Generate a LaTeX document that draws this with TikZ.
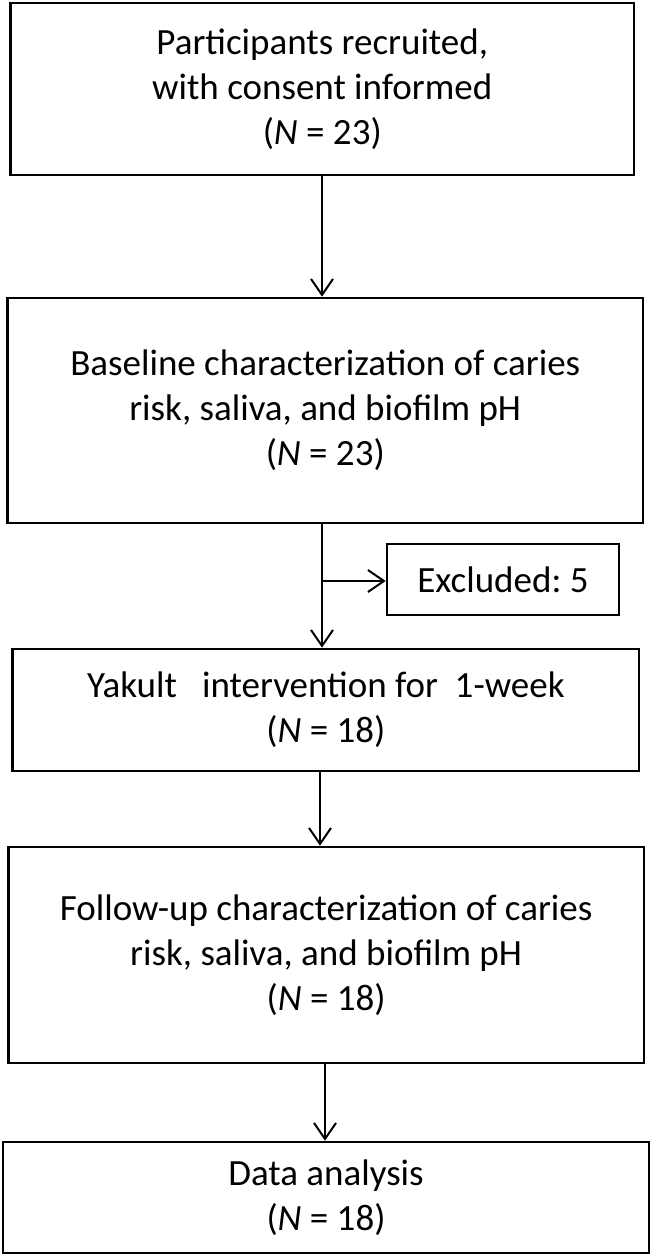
\documentclass[tikz,border=0pt]{standalone}
\usepackage{fontspec}
\setmainfont{Carlito}
\usetikzlibrary{arrows.meta}
\begin{document}
\begin{tikzpicture}[x=1pt,y=-1pt,
  box/.style={draw=black, line width=2.6pt, rectangle, align=center, inner sep=0pt,
    font=\fontsize{37}{45}\selectfont},
  conn/.style={line width=2pt, -{Straight Barb[length=16pt,width=22pt,line width=2pt]}}]
\useasboundingbox (0,0) rectangle (651,1257);
\node[box, minimum width=623.5pt, minimum height=172pt] (b1) at (322.25,89)
  {Participants recruited,\\with consent informed\\(\textit{N} = 23)};
\node[box, minimum width=635.5pt, minimum height=225pt] (b2) at (325.25,410.5)
  {Baseline characterization of caries\\risk, saliva, and biofilm pH\\(\textit{N} = 23)};
\node[box, minimum width=232pt, minimum height=71pt] (ex) at (503,579.5)
  {Excluded:\ 5};
\node[box, minimum width=626.3pt, minimum height=122pt] (b3) at (325.85,710)
  {Yakult\ \ \ intervention for\ \ 1-week\\(\textit{N} = 18)};
\node[box, minimum width=635.7pt, minimum height=216pt] (b4) at (326.15,955)
  {Follow-up characterization of caries\\risk, saliva, and biofilm pH\\(\textit{N} = 18)};
\node[box, minimum width=646pt, minimum height=111pt] (b5) at (326,1197.5)
  {Data analysis\\(\textit{N} = 18)};
\coordinate (br) at (322,581);
\draw[conn] (b1.south -| 322,0) -- (b2.north -| 322,0);
\draw[conn] (b2.south -| 322,0) -- (b3.north -| 322,0);
\draw[conn] (br) -- (br -| ex.west);
\draw[conn] (b3.south -| 320,0) -- (b4.north -| 320,0);
\draw[conn] (b4.south -| 325,0) -- (b5.north -| 325,0);
\end{tikzpicture}
\end{document}
